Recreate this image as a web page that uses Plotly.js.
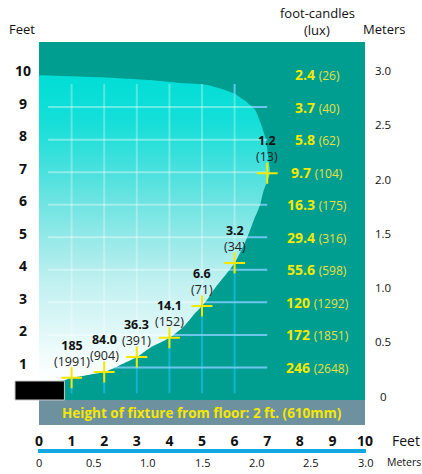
<!DOCTYPE html>
<html>
<head>
<meta charset="utf-8">
<script src="https://cdn.plot.ly/plotly-3.0.1.min.js"></script>
<style>html,body{margin:0;padding:0;background:#fff;}#chart{width:422px;height:474px;}</style>
</head>
<body>
<div id="chart"></div>
<script>
// ---- data ----
const feetTicks = [0, 1, 2, 3, 4, 5, 6, 7, 8, 9, 10];
const meterTicks = [0, 0.5, 1.0, 1.5, 2.0, 2.5, 3.0];
const meterLabels = ['0', '0.5', '1.0', '1.5', '2.0', '2.5', '3.0'];
const heightLevels = [1, 2, 3, 4, 5, 6, 7, 8, 9, 10];
const levelFc = ['246', '172', '120', '55.6', '29.4', '16.3', '9.7', '5.8', '3.7', '2.4'];
const levelLux = ['2648', '1851', '1292', '598', '316', '175', '104', '62', '40', '26'];
const gridLevels = [1, 2, 3, 4, 5, 6, 7, 8, 9];
const gridColumns = [1, 2, 3, 4, 5, 6];
const pointDist = [1, 2, 3, 4, 5, 6, 7];
const pointHeight = [0.68, 0.86, 1.32, 1.91, 2.89, 4.21, 6.97];
const pointFc = ['185', '84.0', '36.3', '14.1', '6.6', '3.2', '1.2'];
const pointLux = ['1991', '904', '391', '152', '71', '34', '13'];
const beamX = [-0.3, 1.87, 3.4, 4.33, 5.15, 5.95, 6.41, 6.63, 6.84, 6.96, 7.04, 7.08, 6.88, 6.78, 6.58, 6.38, 6.0, 5.4, 5.15, 5.0, 4.79, 4.48, 4.0, 3.4, 3.0, 2.48, 2.0, 1.5, 1.0, 0.77, -0.3];
const beamY = [9.99, 9.92, 9.83, 9.74, 9.68, 9.43, 9.12, 8.91, 8.39, 7.99, 7.4, 6.97, 6.4, 5.99, 5.5, 4.98, 4.21, 3.44, 3.07, 2.89, 2.67, 2.3, 1.91, 1.6, 1.32, 1.07, 0.86, 0.77, 0.68, 0.6, 0.56];

// ---- styling constants ----
const FONT = 'Open Sans, Liberation Sans, sans-serif';
const TEAL = '#009e90';
const YELLOW = '#f4e800';
const H_START = 0.28, H_END = 7.0;
const V_BOTTOM = 0.21, V_TOP = 9.71;

function hSegs(levels) {
  const x = [], y = [];
  levels.forEach(l => { x.push(H_START, H_END, null); y.push(l, l, null); });
  return {x, y};
}
function vSegs(cols, lows) {
  const x = [], y = [];
  cols.forEach((c, i) => { x.push(c, c, null); y.push(lows ? lows[i] : V_BOTTOM, V_TOP, null); });
  return {x, y};
}
const hs = hSegs(gridLevels);
const vsFull = vSegs(gridColumns, null);
const vsUpper = vSegs(gridColumns, pointHeight.slice(0, gridColumns.length));

const traces = [
  {x: hs.x, y: hs.y, mode: 'lines', line: {color: '#14a3d8', width: 2}, hoverinfo: 'skip'},
  {x: vsFull.x, y: vsFull.y, mode: 'lines', line: {color: '#12b2d6', width: 2}, hoverinfo: 'skip'},
  {x: beamX, y: beamY, mode: 'lines', fill: 'toself', line: {width: 0, shape: 'spline', smoothing: 0.7},
   fillgradient: {type: 'vertical', colorscale: [
     [0, '#ffffff'], [0.08, '#f2fcfc'], [0.2, '#daf6f6'], [0.33, '#bff0f0'], [0.45, '#9aeae9'],
     [0.58, '#6fe4e2'], [0.72, '#3ee0dc'], [0.85, '#14dfd8'], [1, '#00ded6']]},
   hoverinfo: 'skip'},
  {x: hs.x, y: hs.y, mode: 'lines', line: {color: 'rgba(255,255,255,0.38)', width: 2}, hoverinfo: 'skip'},
  {x: vsUpper.x, y: vsUpper.y, mode: 'lines', line: {color: 'rgba(255,255,255,0.3)', width: 2}, hoverinfo: 'skip'},
  {x: pointDist, y: pointHeight, mode: 'markers', cliponaxis: false,
   marker: {symbol: 'cross-thin-open', size: 15, color: YELLOW, line: {color: YELLOW, width: 2}}, hoverinfo: 'skip'}
];

const ann = [];
// left feet labels
heightLevels.forEach(h => ann.push({xref: 'paper', x: 0, xshift: -16, yref: 'y', y: h, yshift: 4,
  text: '<b>' + h + '</b>', showarrow: false, xanchor: 'center', yanchor: 'middle',
  font: {family: FONT, size: 14, color: '#111'}}));
// right meter labels
meterTicks.forEach((m, i) => ann.push({xref: 'paper', x: 1, xshift: 18, yref: 'y', y: m * 10 / 3, yshift: 4,
  text: meterLabels[i], showarrow: false, xanchor: 'center', yanchor: 'middle',
  font: {family: FONT, size: 11.5, color: '#111'}}));
// bottom meter labels
meterTicks.forEach((m, i) => ann.push({xref: 'x', x: m * 10 / 3, yref: 'paper', y: 0, yshift: -37,
  text: meterLabels[i], showarrow: false, xanchor: 'center', yanchor: 'middle',
  font: {family: FONT, size: 11, color: '#111'}}));
// right column illuminance
heightLevels.forEach((h, i) => ann.push({xref: 'x', x: 8.53, yref: 'y', y: h,
  text: '<b>' + levelFc[i] + '</b> <span style="font-size:12px;color:#e8e040">(' + levelLux[i] + ')</span>',
  showarrow: false, xanchor: 'center', yanchor: 'middle',
  font: {family: FONT, size: 14, color: YELLOW}}));
// point labels (value over lux)
pointDist.forEach((d, i) => {
  ann.push({x: d, y: pointHeight[i], yshift: 24.5,
    text: '<b>' + pointFc[i] + '</b><br><span style="color:#222">(' + pointLux[i] + ')</span>',
    showarrow: false, borderpad: 0, xanchor: 'center', yanchor: 'middle', align: 'center',
    font: {family: FONT, size: 12.5, color: '#111'}});
});
// titles
ann.push({xref: 'paper', x: 0, xshift: -17, yref: 'paper', y: 1, yshift: 13, text: 'Feet', showarrow: false,
  xanchor: 'center', yanchor: 'middle', font: {family: FONT, size: 13, color: '#111'}});
ann.push({xref: 'paper', x: 1, xshift: 19, yref: 'paper', y: 1, yshift: 13, text: 'Meters', showarrow: false,
  xanchor: 'center', yanchor: 'middle', font: {family: FONT, size: 13, color: '#111'}});
ann.push({xref: 'x', x: 8.53, yref: 'paper', y: 1, yshift: 29, text: 'foot-candles', showarrow: false,
  xanchor: 'center', yanchor: 'middle', font: {family: FONT, size: 13, color: '#111'}});
ann.push({xref: 'x', x: 8.53, yref: 'paper', y: 1, yshift: 12, text: '(lux)', showarrow: false,
  xanchor: 'center', yanchor: 'middle', font: {family: FONT, size: 13, color: '#111'}});
// bottom axis title
ann.push({xref: 'paper', x: 1, xshift: 25, yref: 'paper', y: 0, yshift: -15, text: 'Feet', showarrow: false,
  xanchor: 'left', yanchor: 'middle', font: {family: FONT, size: 14, color: '#111'}});
ann.push({xref: 'paper', x: 1, xshift: 20, yref: 'paper', y: 0, yshift: -37, text: 'Meters', showarrow: false,
  xanchor: 'left', yanchor: 'middle', font: {family: FONT, size: 10.5, color: '#111'}});
// strip text
ann.push({xref: 'x', x: 5, yref: 'y', y: -0.384, text: '<b>Height of fixture from floor: 2 ft. (610mm)</b>',
  showarrow: false, xanchor: 'center', yanchor: 'middle', font: {family: FONT, size: 13.5, color: YELLOW}});

const layout = {
  width: 422, height: 474,
  margin: {l: 39, r: 57, t: 42, b: 49, pad: 0},
  paper_bgcolor: '#ffffff', plot_bgcolor: TEAL,
  showlegend: false,
  xaxis: {range: [0, 10], tickvals: feetTicks, ticktext: feetTicks.map(String), ticks: '',
    showgrid: false, zeroline: false, showline: false, ticklabelstandoff: 6,
    tickfont: {family: FONT, size: 14, color: '#111', weight: 'bold'}, fixedrange: true},
  yaxis: {range: [-0.768, 11], showticklabels: false, showgrid: false, zeroline: false, showline: false, ticks: '', fixedrange: true},
  shapes: [
    {type: 'rect', xref: 'x', yref: 'y', x0: 0, x1: 10, y0: -0.768, y1: 0, fillcolor: '#6e91a0', line: {width: 0}, layer: 'below'},
    {type: 'rect', xref: 'paper', yref: 'paper', x0: -0.0736, x1: 0.078, y0: 0.0653, y1: 0.1149,
      fillcolor: '#000000', line: {color: '#c8c8c8', width: 1}, layer: 'above'},
    {type: 'line', xref: 'paper', yref: 'paper', x0: -0.003, x1: 1.003, y0: -0.0679, y1: -0.0679,
      line: {color: '#12a9e2', width: 4}}
  ],
  annotations: ann
};

Plotly.newPlot('chart', traces, layout, {staticPlot: true, displayModeBar: false});
</script>
</body>
</html>
